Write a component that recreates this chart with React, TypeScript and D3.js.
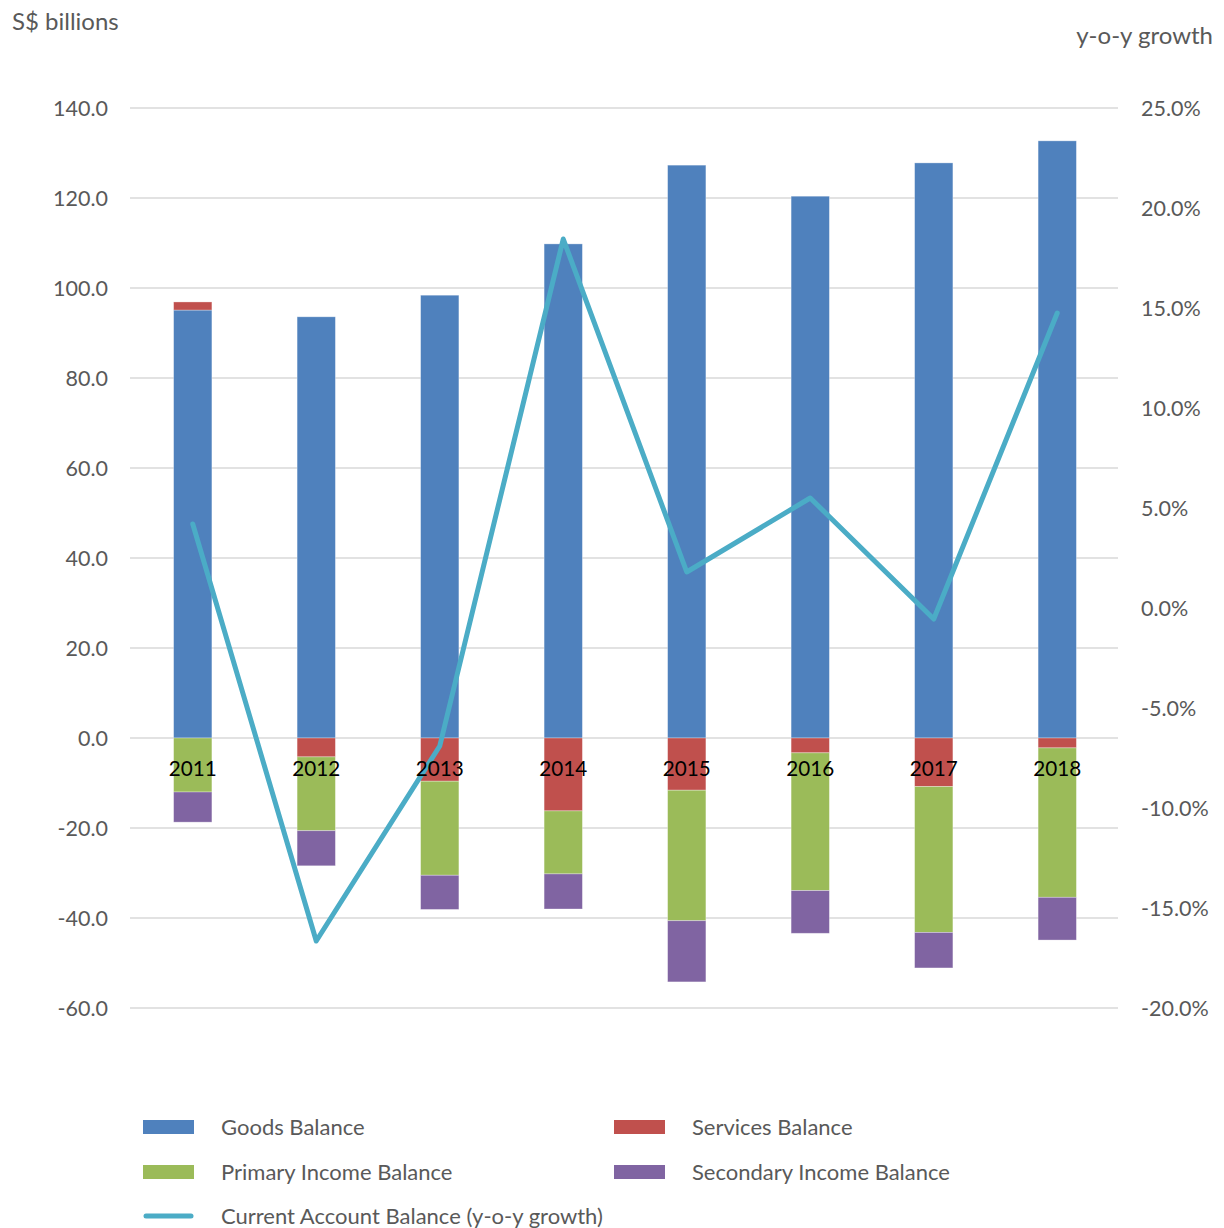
import React from "react";
import * as d3 from "d3";

const years = ["2011", "2012", "2013", "2014", "2015", "2016", "2017", "2018"];
const goods = [95.1, 93.6, 98.4, 109.8, 127.3, 120.4, 127.8, 132.7];
const services = [1.8, -4.2, -9.6, -16.2, -11.6, -3.3, -10.8, -2.2];
const primaryIncome = [-12.0, -16.4, -20.9, -14.0, -29.0, -30.6, -32.4, -33.2];
const secondaryIncome = [-6.7, -7.8, -7.6, -7.8, -13.6, -9.5, -7.9, -9.5];
const growth = [4.2, -16.65, -6.9, 18.45, 1.8, 5.5, -0.55, 14.75];
const leftTicks = [-60, -40, -20, 0, 20, 40, 60, 80, 100, 120, 140];
const rightTicks = [-20, -15, -10, -5, 0, 5, 10, 15, 20, 25];

const seriesNames = ["Goods Balance", "Services Balance", "Primary Income Balance", "Secondary Income Balance"];
const seriesColors = ["#4F81BD", "#C0504D", "#9BBB59", "#8064A2"];
const lineName = "Current Account Balance (y-o-y growth)";
const lineColor = "#4BACC6";

const FONT = "Lato, 'Open Sans', sans-serif";

export default function App() {
  const W = 1224, H = 1228;
  const x0 = 131, x1 = 1119;
  const yL = d3.scaleLinear().domain([-60, 140]).range([1008, 108]);
  const yR = d3.scaleLinear().domain([-20, 25]).range([1008, 108]);
  const x = d3.scaleBand().domain(years).range([x0, x1]).paddingInner(0.69).paddingOuter(0.345);

  const all = [goods, services, primaryIncome, secondaryIncome];
  const rects: any[] = [];
  years.forEach((yr, i) => {
    let pos = 0, neg = 0;
    all.forEach((s, k) => {
      const v = s[i];
      let a, b;
      if (v >= 0) { a = pos; b = pos + v; pos = b; } else { a = neg; b = neg + v; neg = b; }
      const top = yL(Math.max(a, b)), bot = yL(Math.min(a, b));
      rects.push(
        <rect key={yr + k} x={x(yr)} y={top} width={x.bandwidth()} height={bot - top}
          fill={seriesColors[k]} stroke="#ffffff" strokeOpacity={0.4} strokeWidth={0.8} />
      );
    });
  });

  const line = d3.line<number>()
    .x((_, i) => (x(years[i]) as number) + x.bandwidth() / 2)
    .y((d) => yR(d));

  const legendItems = [
    { name: seriesNames[0], color: seriesColors[0], lx: 143, ly: 1127 },
    { name: seriesNames[1], color: seriesColors[1], lx: 614, ly: 1127 },
    { name: seriesNames[2], color: seriesColors[2], lx: 143, ly: 1172 },
    { name: seriesNames[3], color: seriesColors[3], lx: 614, ly: 1172 },
  ];

  return (
    <svg width={W} height={H} style={{ position: "absolute", left: 0, top: 0, background: "#fff" }} fontFamily={FONT}>
      <rect x={0} y={0} width={W} height={H} fill="#fff" />
      {leftTicks.map((t) => (
        <g key={t}>
          <line x1={x0 - 1} x2={x1 - 1} y1={yL(t)} y2={yL(t)} stroke="#D9D9D9" strokeWidth={1.5} />
          <text x={108} y={yL(t)} dy="0.35em" textAnchor="end" fontSize={21.5} fill="#595959">{t.toFixed(1)}</text>
        </g>
      ))}
      {rightTicks.map((t) => (
        <text key={t} x={1141} y={yR(t)} dy="0.35em" textAnchor="start" fontSize={21.5} fill="#595959">{t.toFixed(1) + "%"}</text>
      ))}
      <text x={12} y={30} fontSize={24} fill="#595959">S$ billions</text>
      <text x={1213} y={44} fontSize={24} fill="#595959" textAnchor="end">y-o-y growth</text>
      {rects}
      <path d={line(growth) || ""} fill="none" stroke={lineColor} strokeWidth={5} strokeLinejoin="round" strokeLinecap="round" />
      {years.map((yr) => (
        <text key={yr} x={(x(yr) as number) + x.bandwidth() / 2} y={769} dy="0.35em" textAnchor="middle" fontSize={20.7} fill="#000">{yr}</text>
      ))}
      {legendItems.map((it) => (
        <g key={it.name}>
          <rect x={it.lx} y={it.ly - 7} width={51} height={14} fill={it.color} />
          <text x={it.lx + 78} y={it.ly} dy="0.35em" fontSize={22} fill="#595959">{it.name}</text>
        </g>
      ))}
      <line x1={146} x2={191} y1={1216} y2={1216} stroke={lineColor} strokeWidth={5} strokeLinecap="round" />
      <text x={221} y={1216} dy="0.35em" fontSize={22} fill="#595959">{lineName}</text>
    </svg>
  );
}
